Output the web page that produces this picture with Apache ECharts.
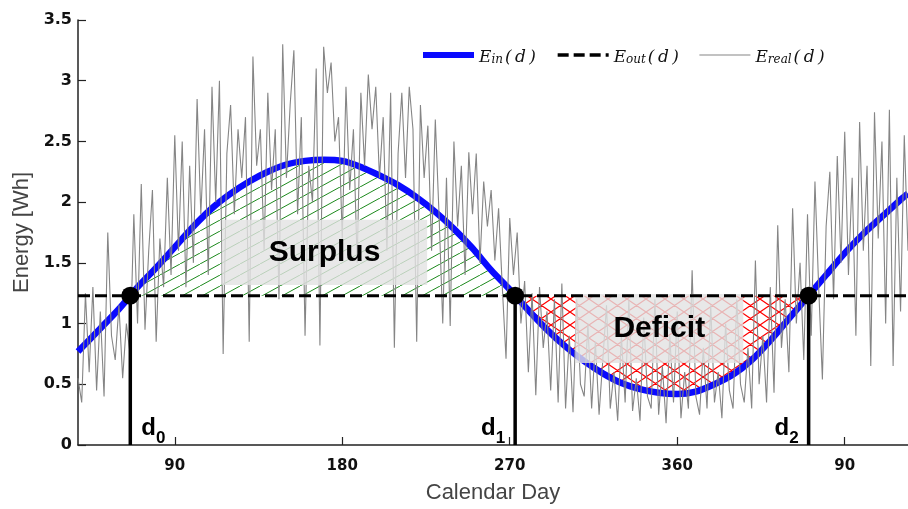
<!DOCTYPE html>
<html><head><meta charset="utf-8">
<script src="https://cdn.jsdelivr.net/npm/echarts@6/dist/echarts.min.js"></script>
<style>html,body{margin:0;padding:0;background:#fff}#c{width:908px;height:509px}</style>
</head><body><div id="c"></div>
<script>
// Smooth incoming energy E_in(d)
const einDays = [38,50,60,70,80,90,100,110,120,130,140,150,160,170,180,190,200,210,220,230,240,250,260,270,280,290,300,310,320,330,340,350,360,370,380,390,400,410,420,430,440,450,460,470,480,484];
const einVals = [0.77,0.96,1.12,1.30,1.46,1.63,1.80,1.95,2.07,2.17,2.25,2.31,2.34,2.35,2.34,2.29,2.22,2.14,2.04,1.92,1.78,1.62,1.44,1.28,1.11,0.95,0.81,0.69,0.59,0.51,0.46,0.43,0.42,0.44,0.50,0.58,0.70,0.86,1.04,1.22,1.40,1.58,1.74,1.88,2.02,2.07];
// Constant consumption E_out(d)
const eoutValue = 1.23;
// Real measured energy (every 2nd day from day 38)
const realStart = 38;
const realStep = 2;
const realVals = [
0.55,0.35,1.25,0.6,1.3,0.45,1.1,0.4,1.75,0.9,
0.7,1.15,0.55,1.0,0.75,1.9,1.0,2.15,0.95,1.6,
2.1,0.85,1.7,1.3,2.2,1.4,2.55,1.6,2.5,1.3,
2.3,1.5,2.85,1.9,2.6,1.4,2.95,2.0,3.0,0.75,
2.4,2.8,1.9,2.6,2.2,2.7,0.85,3.2,2.3,2.6,
1.6,2.9,2.1,2.6,1.2,3.3,2.2,2.8,3.25,1.9,
2.7,0.9,2.3,2.0,3.1,0.82,3.28,2.9,3.15,2.5,
2.7,1.7,2.95,2.1,2.6,1.5,2.9,2.3,3.05,2.6,
2.95,2.2,2.7,1.6,2.9,0.8,2.4,2.9,2.2,2.95,
2.6,0.85,2.8,2.2,2.63,1.6,2.68,1.9,1.0,2.2,
0.98,2.5,1.8,2.3,1.4,2.41,1.9,2.4,1.5,2.17,
1.8,2.1,1.52,1.95,1.3,0.71,1.87,1.4,1.75,1.0,
1.35,0.6,1.25,0.41,1.3,0.8,1.1,0.45,1.2,0.35,
1.33,0.3,0.9,0.27,1.2,0.5,0.4,1.0,0.3,0.85,
0.25,0.7,1.15,0.3,0.6,0.2,0.9,0.35,1.2,0.28,
0.55,0.2,1.05,0.4,0.3,1.2,0.25,0.65,0.18,0.9,
0.35,1.1,0.22,0.6,0.3,1.44,0.4,0.25,0.8,0.3,
1.15,0.35,0.6,0.22,1.0,0.45,0.3,1.2,0.5,0.35,
0.8,0.3,1.52,0.5,0.9,0.35,1.3,0.43,1.81,0.8,
1.2,0.6,1.95,1.0,1.5,0.7,1.9,0.9,2.17,1.3,
0.54,1.8,2.25,1.2,2.38,1.5,2.58,1.4,2.2,0.9,
2.66,1.6,2.3,0.65,2.74,1.7,2.5,1.0,2.76,0.65,
2.2,1.1,2.55,1.6];
// Crossing days d0, d1, d2
const crossDays = [66.1, 272.9, 430.6];
const crossNames = ['0','1','2'];
// Axis ticks
const tickDays = [90,180,270,360,450];
const tickLabels = ['90','180','270','360','90'];
const yTickLabels = ['0','0.5','1','1.5','2','2.5','3','3.5'];
const regionLabels = ['Surplus','Deficit'];
const legendNames = ['Ein','Eout','Ereal'];
const legendSubs = ['in','out','real'];

function hatch(w, h, color, cross, lw) {
  const c = document.createElement('canvas');
  c.width = w; c.height = h;
  const g = c.getContext('2d');
  g.strokeStyle = color; g.lineWidth = lw;
  g.beginPath();
  for (let k = -1; k <= 1; k++) {
    g.moveTo(k * w, h); g.lineTo(k * w + w, 0);
    if (cross) { g.moveTo(k * w, 0); g.lineTo(k * w + w, h); }
  }
  g.stroke();
  return c;
}

const einData = einDays.map((d, i) => [d, einVals[i]]);
function between(a, b) {
  return [[a, eoutValue]].concat(einData.filter(p => p[0] > a + 2 && p[0] < b - 2)).concat([[b, eoutValue]]);
}
const surplusData = between(crossDays[0], crossDays[1]);
const deficitData = between(crossDays[1], crossDays[2]);
const realData = realVals.map((v, i) => [realStart + realStep * i, v]);
const xMin = 38, xMax = 484;

const blue = '#0a0aff', gray = '#858585';
const chart = echarts.init(document.getElementById('c'), null, {renderer: 'canvas'});
const serifIt = {fontFamily: 'DejaVu Serif', fontStyle: 'italic', color: '#111'};
chart.setOption({
  animation: false,
  backgroundColor: '#fff',
  grid: {left: 78, right: 0, top: 20, bottom: 59},
  legend: {
    data: [
      {name: 'Ein', lineStyle: {color: blue, width: 6}},
      {name: 'Eout', lineStyle: {color: '#000', width: 3.5, type: [11, 5]}},
      {name: 'Ereal', lineStyle: {color: gray, width: 1.2}}
    ],
    left: 415, top: 44,
    itemWidth: 51, itemHeight: 14, itemGap: 20,
    itemStyle: {opacity: 0},
    formatter: n => '{e|E}{s|' + legendSubs[legendNames.indexOf(n)] + '}{p|(\u2009d\u2009)}',
    textStyle: {
      rich: {
        e: Object.assign({fontSize: 17, lineHeight: 22, verticalAlign: 'bottom'}, serifIt),
        s: Object.assign({fontSize: 12, lineHeight: 17, verticalAlign: 'bottom'}, serifIt),
        p: Object.assign({fontSize: 17, lineHeight: 22, verticalAlign: 'bottom', padding: [0, 0, 0, 2]}, serifIt)
      }
    }
  },
  xAxis: {
    type: 'value', min: xMin, max: xMax,
    splitLine: {show: false},
    axisLine: {lineStyle: {color: '#222', width: 1.5}},
    axisTick: {show: true, inside: true, length: 8, customValues: tickDays, lineStyle: {color: '#222', width: 1.2}},
    axisLabel: {customValues: tickDays, formatter: v => tickLabels[tickDays.indexOf(v)],
      fontFamily: 'DejaVu Sans', fontWeight: 'bold', fontSize: 15, color: '#111', margin: 14},
    name: 'Calendar Day', nameLocation: 'middle', nameGap: 37,
    nameTextStyle: {fontFamily: 'Liberation Sans', fontSize: 22, color: '#444'}
  },
  yAxis: {
    type: 'value', min: 0, max: 3.5, interval: 0.5,
    splitLine: {show: false},
    axisLine: {show: true, lineStyle: {color: '#222', width: 1.5}},
    axisTick: {show: true, inside: true, length: 8, lineStyle: {color: '#222', width: 1.2}},
    axisLabel: {formatter: (v, i) => yTickLabels[i], fontFamily: 'DejaVu Sans', fontWeight: 'bold', fontSize: 16, color: '#111', margin: 6},
    name: 'Energy [Wh]', nameLocation: 'middle', nameGap: 45,
    nameTextStyle: {fontFamily: 'Liberation Sans', fontSize: 22, color: '#444'}
  },
  series: [
    {type: 'line', data: surplusData, smooth: 0.3, symbol: 'none', silent: true, z: 1,
     lineStyle: {width: 0}, areaStyle: {origin: eoutValue, opacity: 1, color: {image: hatch(20, 11, '#1d8a1d', false, 1), repeat: 'repeat'}}},
    {type: 'line', data: deficitData, smooth: 0.3, symbol: 'none', silent: true, z: 1,
     lineStyle: {width: 0}, areaStyle: {origin: eoutValue, opacity: 1, color: {image: hatch(19, 13, '#ff0000', true, 1.2), repeat: 'repeat'}}},
    {name: 'Ein', type: 'line', data: einData, smooth: 0.3, symbol: 'none', z: 2,
     lineStyle: {color: blue, width: 6.5}, itemStyle: {color: blue}},
    {name: 'Ereal', type: 'line', data: realData, symbol: 'none', z: 3,
     lineStyle: {color: gray, width: 1.1}, itemStyle: {color: gray}},
    {type: 'custom', z: 4, silent: true,
     data: [[115.3, 1.854, 225.6, 1.317], [305.2, 1.244, 395.5, 0.675]],
     renderItem: (params, api) => {
       const p1 = api.coord([api.value(0), api.value(1)]);
       const p2 = api.coord([api.value(2), api.value(3)]);
       return {type: 'group', children: [
         {type: 'rect', shape: {x: p1[0], y: p1[1], width: p2[0] - p1[0], height: p2[1] - p1[1]},
          style: {fill: 'rgba(226,226,226,0.8)'}},
         {type: 'text', style: {text: regionLabels[params.dataIndex], x: (p1[0] + p2[0]) / 2, y: (p1[1] + p2[1]) / 2,
          align: 'center', verticalAlign: 'middle', font: 'bold 30px "Liberation Sans"', fill: '#000'}}
       ]};
     }},
    {name: 'Eout', type: 'line', data: [[xMin, eoutValue], [xMax, eoutValue]], symbol: 'none', z: 5,
     lineStyle: {color: '#000', width: 3, type: [12, 5]}, itemStyle: {color: '#000'}},
    {type: 'custom', z: 6, silent: true,
     data: crossDays.map(d => [d, eoutValue]),
     renderItem: (params, api) => {
       const top = api.coord([api.value(0), api.value(1)]);
       const bot = api.coord([api.value(0), 0]);
       const right = params.dataIndex === 0;
       return {type: 'group', children: [
         {type: 'line', shape: {x1: top[0], y1: top[1], x2: bot[0], y2: bot[1]}, style: {stroke: '#000', lineWidth: 3.5}},
         {type: 'circle', shape: {cx: top[0], cy: top[1], r: 9}, style: {fill: '#000'}},
         {type: 'text', style: {
           text: '{d|d}{s|' + crossNames[params.dataIndex] + '}',
           x: right ? bot[0] + 11 : bot[0] - 10, y: bot[1] + 2,
           align: right ? 'left' : 'right', verticalAlign: 'bottom',
           rich: {
             d: {font: 'bold 24px "Liberation Sans"', fill: '#000', lineHeight: 24, verticalAlign: 'top'},
             s: {font: 'bold 17px "Liberation Sans"', fill: '#000', lineHeight: 31, verticalAlign: 'bottom'}
           }}}
       ]};
     }}
  ]
});
</script></body></html>
